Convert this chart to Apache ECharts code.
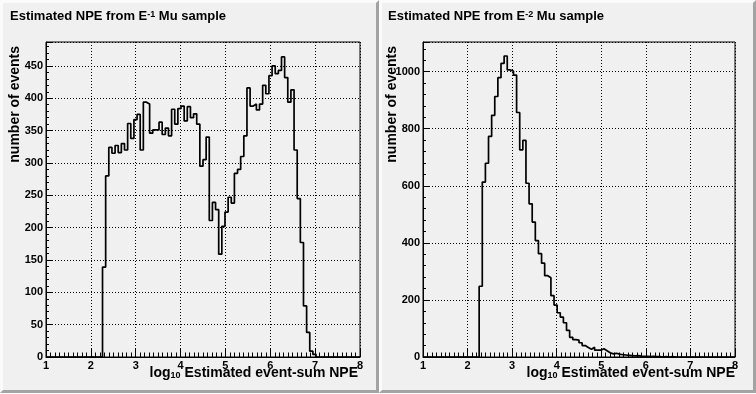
<!DOCTYPE html>
<html><head><meta charset="utf-8">
<script src="https://cdn.jsdelivr.net/npm/echarts@6/dist/echarts.min.js"></script>
<style>
html,body{margin:0;padding:0;background:#fff;}
#wrap{position:relative;width:756px;height:394px;overflow:hidden;background:#fff;}
.pad{position:absolute;box-sizing:border-box;background:#f0f0f0;border-top:3px solid #fbfbfb;border-left:3px solid #fbfbfb;border-right:3px solid #a3a3a3;border-bottom:3px solid #a3a3a3;}
#chart{position:absolute;left:0;top:0;width:756px;height:394px;}
</style></head>
<body><div id="wrap">
<div class="pad" style="left:0;top:0;width:379px;height:393px"></div>
<div class="pad" style="left:379px;top:0;width:377px;height:393px"></div>
<div id="chart"></div></div>
<script>
// Histogram binning (log10 NPE)
const binWidth = 0.07;
const xStart = 1;
const xEnd = 8;
const firstBin = 18; // first filled bin index (x = 2.26)
const xTickLabels = ['1','2','3','4','5','6','7','8'];
const leftYTicks = [0,50,100,150,200,250,300,350,400,450];
const rightYTicks = [0,200,400,600,800,1000];

// E^-1 Mu sample counts, from bin 18 onward
const leftCounts = [139,280,324,315,327,316,330,320,361,338,
  367,375,320,394,391,346,351,351,363,344,
  354,342,383,360,384,388,365,387,370,376,
  360,295,305,340,211,239,228,159,202,224,
  247,238,284,290,310,342,416,388,391,382,
  391,420,407,435,450,438,443,464,432,394,
  413,320,245,177,79,38,9,4];

// E^-2 Mu sample counts, from bin 18 onward
const rightCounts = [248,613,679,773,847,913,979,1029,1055,1006,
  1002,988,857,726,759,609,537,473,408,362,
  329,285,278,215,182,155,140,120,93,69,
  61,59,50,40,33,27,34,24,24,29,
  22,15,11,13,10,8,7,6,5,4,
  5,3,2,2,1,2,1,1,0,1,0,1];

function histPoints(counts){
  const nBins = Math.round((xEnd - xStart) / binWidth);
  const pts = [];
  for (let k = 0; k < nBins; k++) {
    const i = k - firstBin;
    const v = (i >= 0 && i < counts.length) ? counts[i] : 0;
    pts.push([+(xStart + k * binWidth).toFixed(4), v]);
  }
  pts.push([xEnd, 0]);
  return pts;
}

const FONT = "'Liberation Sans', Arial, Helvetica, sans-serif";
const dotted = {color:'#000', width:1, type:[1,2]};

function xAxisCfg(gi){
  return {
    type:'value', gridIndex:gi, min:xStart, max:xEnd, interval:1,
    axisLine:{show:true, lineStyle:{color:'#000', width:1}},
    axisTick:{show:true, inside:true, length:9, lineStyle:{color:'#000'}},
    minorTick:{show:true, splitNumber:10, length:4.5, lineStyle:{color:'#000'}},
    axisLabel:{show:true, margin:3, color:'#000', fontFamily:FONT, fontWeight:'bold', fontSize:11,
      showMinLabel:true, showMaxLabel:true,
      formatter:(v)=>{ const i = Math.round(v - xStart); return xTickLabels[i] !== undefined && Math.abs(v-Math.round(v))<1e-6 ? xTickLabels[i] : ''; }},
    splitLine:{show:true, lineStyle:dotted}
  };
}
function yAxisCfg(gi, max, interval, ticks, minorSplit){
  return {
    type:'value', gridIndex:gi, min:0, max:max, interval:interval,
    axisLine:{show:true, lineStyle:{color:'#000', width:1}},
    axisTick:{show:true, inside:true, length:6, lineStyle:{color:'#000'}},
    minorTick:{show:true, splitNumber:minorSplit, length:3, lineStyle:{color:'#000'}},
    axisLabel:{show:true, margin:3, color:'#000', fontFamily:FONT, fontWeight:'bold', fontSize:11,
      showMaxLabel:false,
      formatter:(v)=> ticks.indexOf(v) >= 0 ? String(v) : ''},
    splitLine:{show:true, lineStyle:dotted}
  };
}

function titleText(x, sup){
  return {
    type:'text', left:x, top:10, silent:true,
    style:{
      text:'{a|Estimated NPE from E}{s|' + sup + '}{a| Mu sample}',
      fill:'#000',
      rich:{
        a:{fontFamily:FONT, fontWeight:'bold', fontSize:13, lineHeight:13, verticalAlign:'bottom', fill:'#000'},
        s:{fontFamily:FONT, fontWeight:'bold', fontSize:9, lineHeight:8, verticalAlign:'top', fill:'#000'}
      }
    }
  };
}
function xTitle(xRight){
  return {
    type:'text', x:xRight, y:366, silent:true,
    style:{
      text:'{a|log}{s|10}{a| Estimated event-sum NPE}',
      align:'right', verticalAlign:'top', fill:'#000',
      rich:{
        a:{fontFamily:FONT, fontWeight:'bold', fontSize:14, lineHeight:14, verticalAlign:'top', fill:'#000'},
        s:{fontFamily:FONT, fontWeight:'bold', fontSize:9, lineHeight:9, padding:[11,0,0,0], verticalAlign:'bottom', fill:'#000'}
      }
    }
  };
}
function yTitle(xc){
  return {
    type:'text', x:xc, y:46, rotation:Math.PI/2, silent:true,
    style:{text:'number of events', align:'right', verticalAlign:'middle', fill:'#000',
      font:"bold 14px " + FONT}
  };
}

const chart = echarts.init(document.getElementById('chart'), null, {renderer:'canvas'});
chart.setOption({
  backgroundColor:'transparent',
  animation:false,
  grid:[
    {left:46, top:42, width:314, height:315, show:true, borderColor:'#000', borderWidth:1, backgroundColor:'transparent', containLabel:false},
    {left:423, top:42, width:312, height:315, show:true, borderColor:'#000', borderWidth:1, backgroundColor:'transparent', containLabel:false}
  ],
  xAxis:[xAxisCfg(0), xAxisCfg(1)],
  yAxis:[yAxisCfg(0, 487, 50, leftYTicks, 5), yAxisCfg(1, 1104, 200, rightYTicks, 5)],
  series:[
    {type:'line', xAxisIndex:0, yAxisIndex:0, step:'end', showSymbol:false, symbol:'none',
     lineStyle:{color:'#000', width:1.7}, data:histPoints(leftCounts), z:5},
    {type:'line', xAxisIndex:1, yAxisIndex:1, step:'end', showSymbol:false, symbol:'none',
     lineStyle:{color:'#000', width:1.7}, data:histPoints(rightCounts), z:5}
  ],
  graphic:[
    titleText(10, '-1'), titleText(388, '-2'),
    xTitle(358), xTitle(735),
    yTitle(15.5), yTitle(392)
  ]
});
</script>
</body></html>
